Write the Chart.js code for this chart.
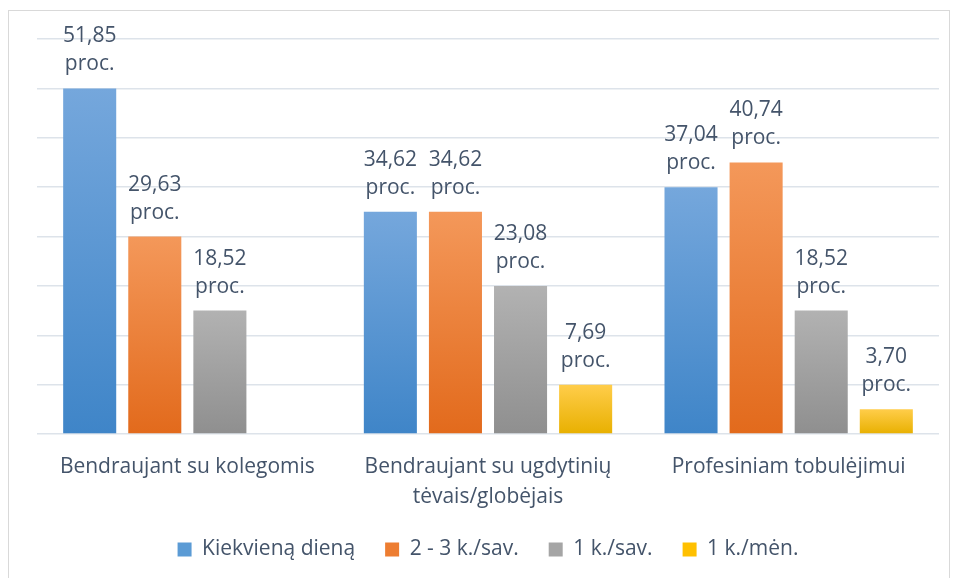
<!DOCTYPE html>
<html>
<head>
<meta charset="utf-8">
<script src="https://cdn.jsdelivr.net/npm/chart.js@4"></script>
<style>
  html, body { margin: 0; padding: 0; background: #fff; }
  #wrap { position: absolute; left: 0; top: 0; width: 955px; height: 578px; }
  #frame { position: absolute; left: 8px; top: 10px; width: 942px; height: 580px; border: 1px solid #d9d9d9; box-sizing: border-box; }
</style>
</head>
<body>
<div id="frame"></div>
<div id="wrap"><canvas id="myChart" width="955" height="578"></canvas></div>
<script>
// categories (wrapped the same way as the picture)
var categories = [
    ['Bendraujant su kolegomis'],
    ['Bendraujant su ugdytinių', 'tėvais/globėjais'],
    ['Profesiniam tobulėjimui']
];
var seriesNames = ['Kiekvieną dieną', '2 - 3 k./sav.', '1 k./sav.', '1 k./mėn.'];

// bar heights = number of answers (the hidden axis counts them, step 2)
var dailyCounts   = [14, 9, 10];
var twiceCounts   = [8, 9, 11];
var weeklyCounts  = [5, 6, 5];
var monthlyCounts = [null, 2, 1];

// labels printed over the bars
var dailyPct   = ['51,85', '34,62', '37,04'];
var twicePct   = ['29,63', '34,62', '40,74'];
var weeklyPct  = ['18,52', '23,08', '18,52'];
var monthlyPct = [null, '7,69', '3,70'];

var yTicks = [0, 2, 4, 6, 8, 10, 12, 14, 16];

var textColor = '#44546a';
var fontFamily = "'Open Sans', sans-serif";
var fontSize = 21;

// top colour, bottom colour, legend colour
var palette = [
    ['#75a7dc', '#3f85c8', '#5b9bd5'],
    ['#f4985a', '#e26a1c', '#ed7d31'],
    ['#b2b2b2', '#8f8f8f', '#a5a5a5'],
    ['#ffcd4a', '#e8b000', '#ffc000']
];

function barFill(i) {
    return function (ctx) {
        var chart = ctx.chart;
        var area = chart.chartArea;
        if (!area || ctx.type !== 'data' || ctx.raw == null) return palette[i][2];
        var top = chart.scales.y.getPixelForValue(ctx.raw);
        var g = chart.ctx.createLinearGradient(0, top, 0, area.bottom);
        g.addColorStop(0, palette[i][0]);
        g.addColorStop(1, palette[i][1]);
        return g;
    };
}

var counts = [dailyCounts, twiceCounts, weeklyCounts, monthlyCounts];
var pcts = [dailyPct, twicePct, weeklyPct, monthlyPct];

var datasets = [];
for (var i = 0; i < seriesNames.length; i++) {
    datasets.push({
        label: seriesNames[i],
        data: counts[i],
        pct: pcts[i],
        backgroundColor: barFill(i),
        borderWidth: 0,
        categoryPercentage: 0.866,
        barPercentage: 0.815
    });
}

// two-line "xx,xx / proc." label over each bar
var pctLabels = {
    id: 'pctLabels',
    afterDatasetsDraw: function (chart) {
        var ctx = chart.ctx;
        ctx.save();
        ctx.fillStyle = textColor;
        ctx.font = fontSize + 'px ' + fontFamily;
        ctx.textAlign = 'center';
        ctx.textBaseline = 'alphabetic';
        chart.data.datasets.forEach(function (ds, di) {
            var meta = chart.getDatasetMeta(di);
            meta.data.forEach(function (bar, j) {
                if (ds.pct[j] == null) return;
                ctx.fillText(ds.pct[j], bar.x, bar.y - 46);
                ctx.fillText('proc.', bar.x, bar.y - 18);
            });
        });
        ctx.restore();
    }
};

// legend sits a bit closer to the category labels than the layout allows
var legendNudge = {
    id: 'legendNudge',
    afterLayout: function (chart) {
        chart.legend.top -= 3;
        chart.legend.bottom -= 3;
    }
};

Chart.defaults.font.family = fontFamily;
Chart.defaults.color = textColor;

var chart = new Chart(document.getElementById('myChart').getContext('2d'), {
    type: 'bar',
    data: { labels: categories, datasets: datasets },
    plugins: [pctLabels, legendNudge],
    options: {
        responsive: false,
        animation: false,
        layout: { padding: { left: 37, right: 16, top: 39, bottom: 5 } },
        scales: {
            x: {
                grid: { display: false, drawTicks: false },
                border: { display: false },
                ticks: { font: { size: fontSize, lineHeight: 1.43 }, color: textColor, padding: 18 },
                afterFit: function (axis) { axis.height = 78; }
            },
            y: {
                min: 0,
                max: 16,
                afterBuildTicks: function (axis) {
                    axis.ticks = yTicks.map(function (v) { return { value: v }; });
                },
                ticks: { display: false },
                grid: { color: '#dde3ea', lineWidth: 1.5, drawTicks: false },
                border: { display: false }
            }
        },
        plugins: {
            tooltip: { enabled: false },
            legend: {
                position: 'bottom',
                labels: {
                    font: { size: fontSize },
                    color: textColor,
                    boxWidth: 14,
                    boxHeight: 14,
                    padding: 30,
                    generateLabels: function (chart) {
                        return chart.data.datasets.map(function (ds, k) {
                            return {
                                text: ds.label,
                                fillStyle: palette[k][2],
                                strokeStyle: palette[k][2],
                                lineWidth: 0,
                                fontColor: textColor,
                                datasetIndex: k
                            };
                        });
                    }
                }
            }
        }
    }
});
</script>
</body>
</html>
